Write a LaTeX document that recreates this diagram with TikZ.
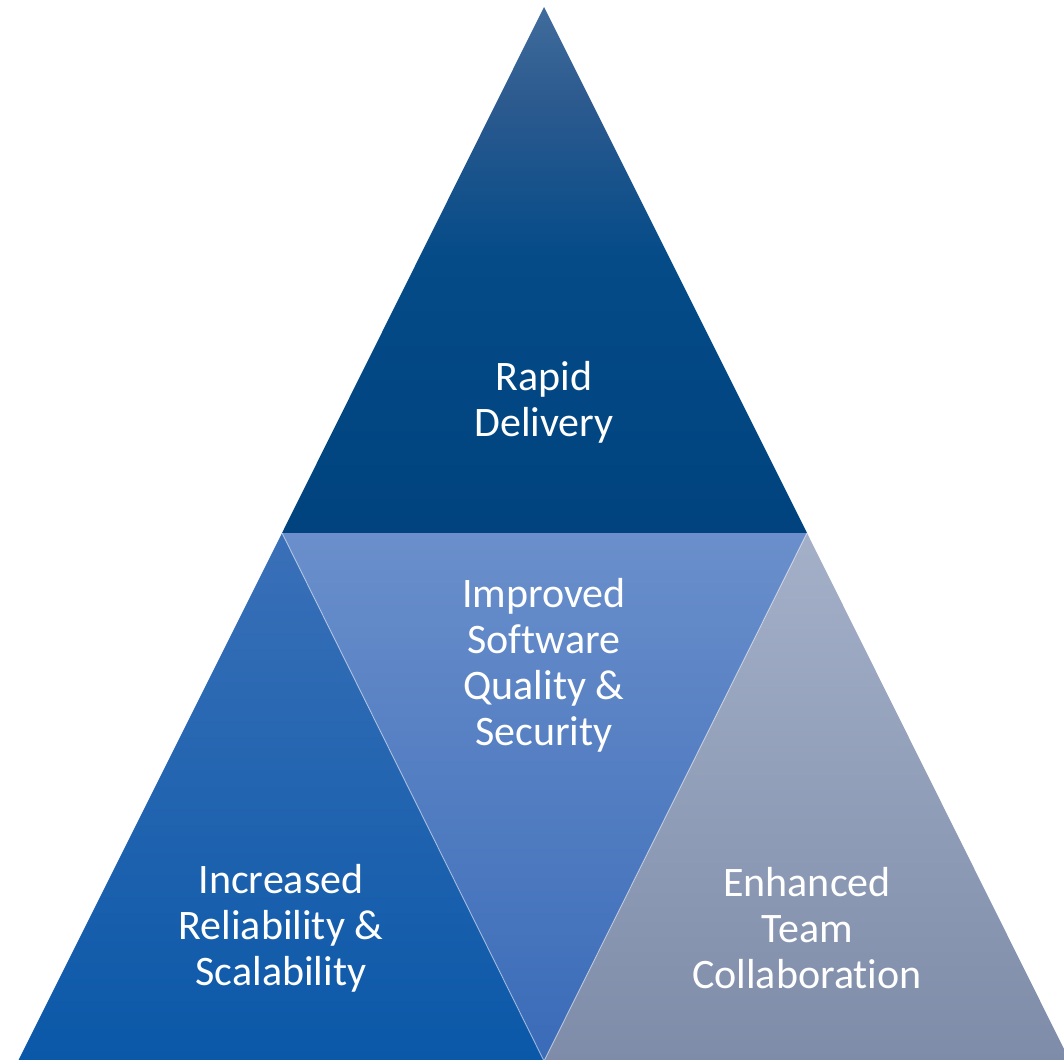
\documentclass[tikz,border=0pt]{standalone}
\usepackage{fontspec}
\setmainfont{Carlito}[Ligatures=NoCommon]
\usepackage{tikz}

\definecolor{topA}{HTML}{406C9C}
\definecolor{topU}{HTML}{2C5A8F}
\definecolor{topM}{HTML}{044B88}
\definecolor{topB}{HTML}{00437E}
\definecolor{midA}{HTML}{6A8FCB}
\definecolor{midB}{HTML}{3A6BB8}
\definecolor{leftA}{HTML}{3A70B8}
\definecolor{leftB}{HTML}{0A58A8}
\definecolor{rightA}{HTML}{A4B0C8}
\definecolor{rightB}{HTML}{7E8CA9}

\pgfdeclareverticalshading{rapidshade}{100bp}{color(0bp)=(topB); color(25bp)=(topB);
	color(51bp)=(topM); color(66bp)=(topU); color(75bp)=(topA); color(100bp)=(topA)}

\begin{document}
\begin{tikzpicture}[x=1pt, y=-1pt,
	label/.style={text=white, align=center, font=\fontsize{42}{46}\selectfont},
	edge/.style={white, opacity=0.45, line width=1pt}]
\clip (0,0) rectangle (1064,1059);
\coordinate (apex) at (544,7);
\coordinate (ml) at (282,533);
\coordinate (mr) at (807,533);
\coordinate (bl) at (18,1061);
\coordinate (bm) at (544,1061);
\coordinate (br) at (1070,1061);

\shade[shading=rapidshade] (apex) -- (ml) -- (mr) -- cycle;
\shade[top color=leftA, bottom color=leftB] (ml) -- (bl) -- (bm) -- cycle;
\shade[top color=midA, bottom color=midB] (ml) -- (mr) -- (bm) -- cycle;
\shade[top color=rightA, bottom color=rightB] (mr) -- (bm) -- (br) -- cycle;
\draw[edge] (ml) -- (bm) -- (mr);

\node[label] (rapid) at (544,402) {Rapid\\Delivery};
\node[label] (quality) at (544,665) {Improved\\Software\\Quality \&\\Security};
\node[label] (reliab) at (281,928) {Increased\\Reliability \&\\Scalability};
\node[label] (team) at (807,928) {Enhanced\\Team\\Collaboration};
\end{tikzpicture}
\end{document}
